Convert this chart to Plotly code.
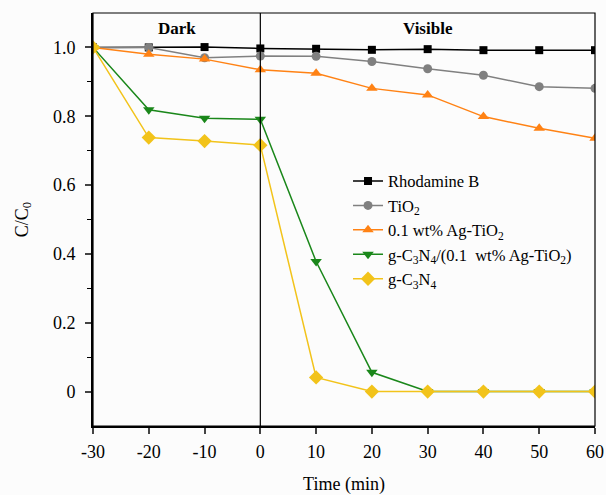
import plotly.graph_objects as go

time = [-30, -20, -10, 0, 10, 20, 30, 40, 50, 60]
rhodamine_b = [1.0, 1.0, 1.001, 0.997, 0.996, 0.993, 0.995, 0.992, 0.992, 0.992]
tio2 = [1.0, 1.0, 0.970, 0.975, 0.974, 0.959, 0.938, 0.919, 0.886, 0.881]
ag_tio2 = [1.0, 0.980, 0.966, 0.935, 0.925, 0.881, 0.862, 0.799, 0.765, 0.736]
gcn_ag_tio2 = [1.0, 0.819, 0.794, 0.791, 0.378, 0.056, 0.0, 0.0, 0.0, 0.0]
gcn = [1.0, 0.738, 0.728, 0.716, 0.041, 0.0, 0.0, 0.0, 0.0, 0.0]

series = [
    ("Rhodamine B", rhodamine_b, "#000000", "square", 8),
    ("TiO<sub>2</sub>", tio2, "#808080", "circle", 9),
    ("0.1 wt% Ag-TiO<sub>2</sub>", ag_tio2, "#ff8214", "triangle-up", 10),
    ("g-C<sub>3</sub>N<sub>4</sub>/(0.1  wt% Ag-TiO<sub>2</sub>)", gcn_ag_tio2, "#1a871a", "triangle-down", 10),
    ("g-C<sub>3</sub>N<sub>4</sub>", gcn, "#f2c31a", "diamond", 11),
]

y_ticks = [0, 0.2, 0.4, 0.6, 0.8, 1.0]
y_ticktext = ["0", "0.2", "0.4", "0.6", "0.8", "1.0"]
x_ticks = [-30, -20, -10, 0, 10, 20, 30, 40, 50, 60]
x_ticktext = ["-30", "-20", "-10", "0", "10", "20", "30", "40", "50", "60"]
phase_labels = ["Dark", "Visible"]
phase_x = [-15, 30]

FONT = "Liberation Serif, Times New Roman, serif"

fig = go.Figure()
for name, vals, color, sym, size in series:
    fig.add_trace(go.Scatter(
        x=time, y=vals, name=name, mode="lines+markers",
        line=dict(color=color, width=1.5),
        marker=dict(symbol=sym, size=size, color=color),
    ))

for lab, xx in zip(phase_labels, phase_x):
    fig.add_annotation(x=xx, y=1.055, xref="x", yref="y", text="<b>%s</b>" % lab,
                       showarrow=False, font=dict(family=FONT, size=17, color="black"))

# divider between dark and visible
fig.add_shape(type="line", xref="x", yref="paper", x0=0, x1=0, y0=0, y1=1,
              line=dict(color="black", width=1.2))
# thin frame
fig.add_shape(type="rect", xref="paper", yref="paper", x0=0, x1=1, y0=0, y1=1,
              line=dict(color="black", width=1.2))

fig.update_layout(
    width=606, height=495,
    margin=dict(l=93, r=11, t=13, b=69),
    paper_bgcolor="#fcfcfc", plot_bgcolor="#fcfcfc",
    font=dict(family=FONT, size=18, color="black"),
    showlegend=True,
    legend=dict(x=0.508, y=0.635, xanchor="left", yanchor="top",
                bgcolor="rgba(0,0,0,0)", font=dict(family=FONT, size=16.5, color="black"),
                tracegroupgap=0, itemwidth=30),
    xaxis=dict(range=[-30, 60], tickvals=x_ticks, ticktext=x_ticktext,
               ticks="outside", ticklen=6, ticklabelstandoff=2, automargin=False,
               tickwidth=1.5, showline=True, linewidth=2, linecolor="black",
               showgrid=False, zeroline=False,
               title=dict(text="Time (min)", font=dict(size=18), standoff=22)),
    yaxis=dict(range=[-0.1, 1.1], tickvals=y_ticks, ticktext=y_ticktext,
               ticks="outside", ticklen=6, tickwidth=1.5, showline=True,
               ticklabelstandoff=6, automargin=False,
               linewidth=2, linecolor="black", showgrid=False, zeroline=False,
               minor=dict(tickvals=[0.1, 0.3, 0.5, 0.7, 0.9], ticks="outside",
                          ticklen=4, tickwidth=1.2, tickcolor="black"),
               title=dict(text="C/C<sub>0</sub>", font=dict(size=18), standoff=20)),
)

fig.write_html(
    "out.html",
    config={"displayModeBar": False, "responsive": False},
    post_script=(
        "document.documentElement.style.margin='0';"
        "document.documentElement.style.overflow='hidden';"
        "document.body.style.margin='0';document.body.style.padding='0';"
        "document.body.style.overflow='hidden';"
    ),
)
